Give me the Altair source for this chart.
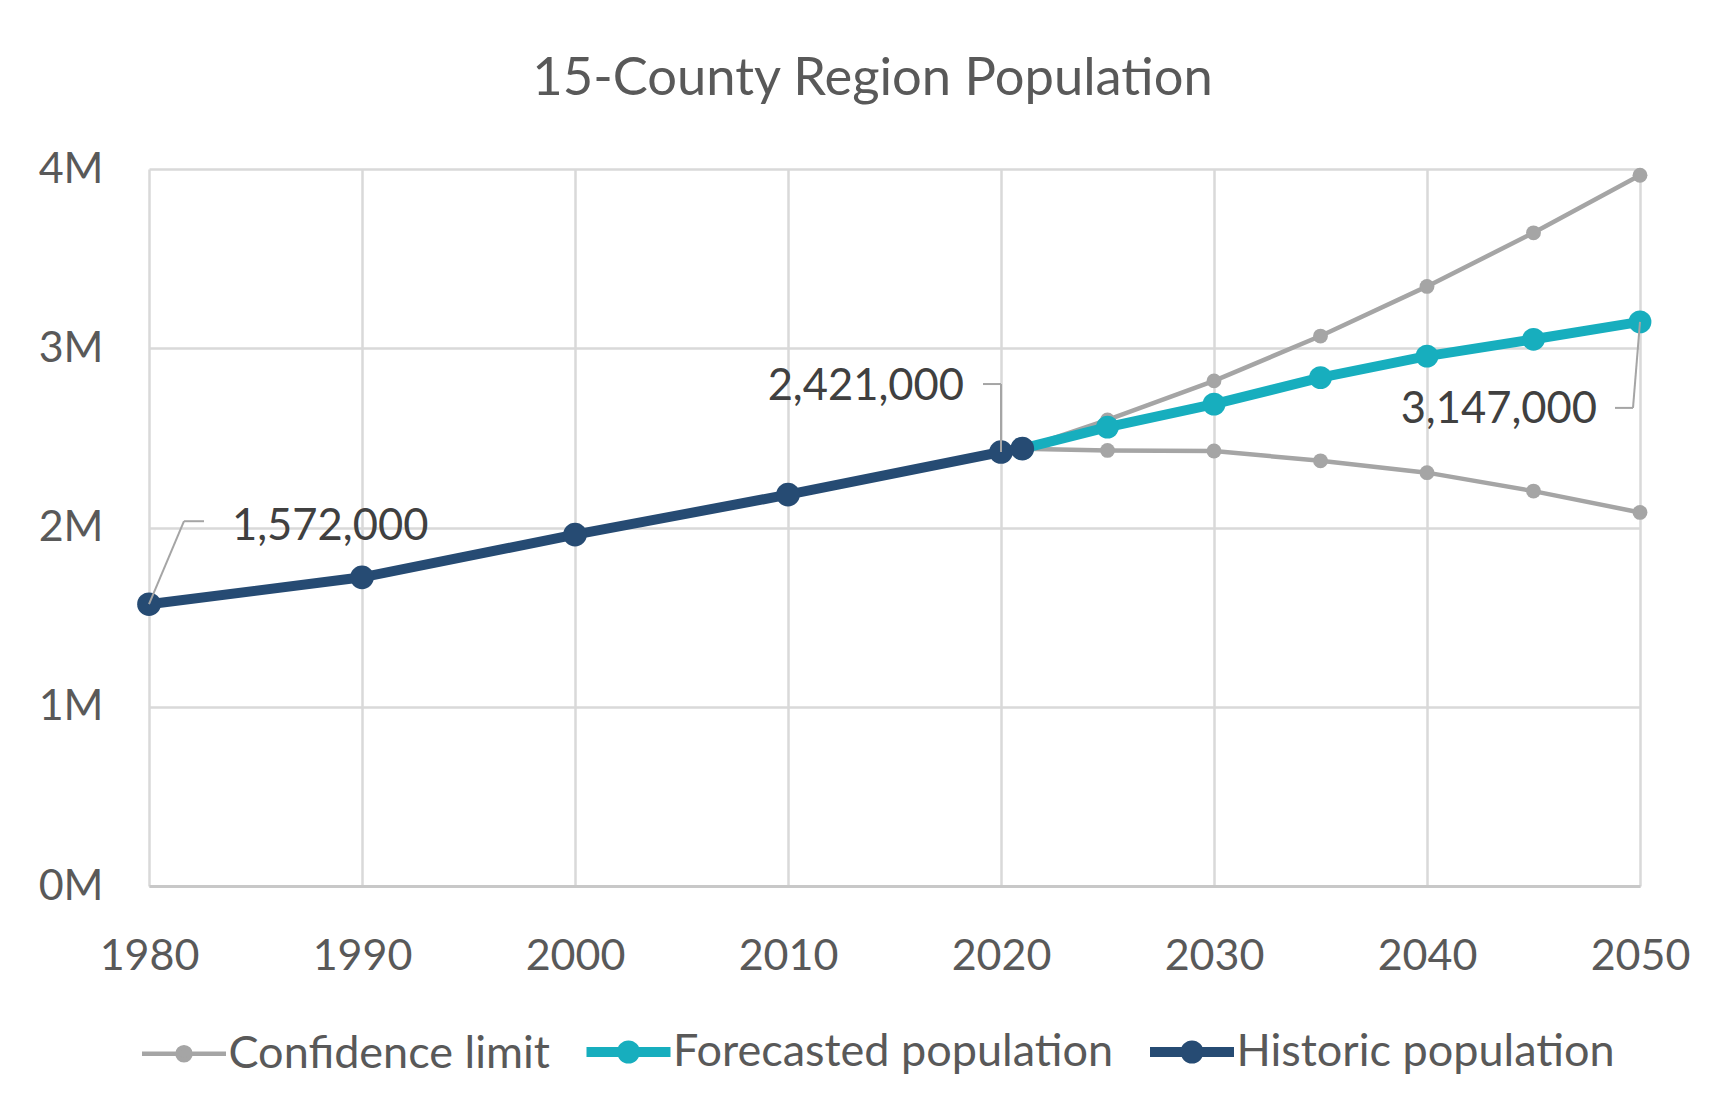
import altair as alt
import pandas as pd

# ---- data ----
hist_years = [1980, 1990, 2000, 2010, 2020, 2021]
hist_values = [1572000, 1722000, 1960000, 2183000, 2421000, 2440000]

fc_years = [2021, 2025, 2030, 2035, 2040, 2045, 2050]
fc_values = [2440000, 2560000, 2688000, 2836000, 2956000, 3050000, 3147000]

conf_years = [2021, 2025, 2030, 2035, 2040, 2045, 2050]
upper_values = [2440000, 2600000, 2818000, 3068000, 3345000, 3644000, 3965000]
lower_values = [2440000, 2430000, 2427000, 2372000, 2306000, 2203000, 2084000]

series_names = ["Confidence limit", "Forecasted population", "Historic population"]
series_colors = ["#A5A5A5", "#17AEBE", "#264B73"]

x_ticks = [1980, 1990, 2000, 2010, 2020, 2030, 2040, 2050]
y_ticks = [0, 1000000, 2000000, 3000000, 4000000]

ann_years = [1980, 2020, 2050]
ann_values = [1572000, 2421000, 3147000]
ann_labels = ["1,572,000", "2,421,000", "3,147,000"]

# ---- tables ----
rows = []
for y, v in zip(hist_years, hist_values):
    rows.append({"series": series_names[2], "bound": "h", "year": y, "value": v})
for y, v in zip(fc_years, fc_values):
    rows.append({"series": series_names[1], "bound": "f", "year": y, "value": v})
for y, v in zip(conf_years, upper_values):
    rows.append({"series": series_names[0], "bound": "upper", "year": y, "value": v})
for y, v in zip(conf_years, lower_values):
    rows.append({"series": series_names[0], "bound": "lower", "year": y, "value": v})
df = pd.DataFrame(rows)

ann = pd.DataFrame({"year": ann_years, "value": ann_values, "label": ann_labels})

FONT = "Lato"
TXT = "#595959"
GRID = "#D9D9D9"

r = 0.155
sym_path = (f"M-1,0L1,0M-{r},0A{r},{r},0,1,0,{r},0A{r},{r},0,1,0,-{r},0Z")

legend = alt.Legend(
    title=None,
    orient="none",
    legendX=-7,
    legendY=860,
    direction="horizontal",
    symbolType=sym_path,
    symbolSize=7056,
    symbolOpacity=1,
    symbolOffset=19.5,
    symbolFillColor=alt.ExprRef("scale('color', datum.value)"),
    symbolStrokeColor=alt.ExprRef("scale('color', datum.value)"),
    symbolStrokeWidth=alt.ExprRef("datum.value === 'Confidence limit' ? 4.5 : 10"),
    labelFont=FONT,
    labelFontSize=45,
    labelColor=TXT,
    labelOffset=22,
    labelLimit=1000,
    columnPadding=16.5,
)

x_enc = alt.X(
    "year:Q",
    scale=alt.Scale(domain=[1980, 2050], nice=False, zero=False),
    axis=alt.Axis(values=x_ticks, format="d", title=None, grid=True, ticks=False,
                  labelFlush=False, labelPadding=49, domain=True,
                  domainColor="#C8C8C8", domainWidth=3),
)
y_enc = alt.Y(
    "value:Q",
    scale=alt.Scale(domain=[0, 4000000], nice=False),
    axis=alt.Axis(values=y_ticks, labelExpr="datum.value / 1000000 + 'M'", title=None,
                  grid=True, ticks=False, domain=False, labelFlush=False, labelPadding=46),
)
color_enc = alt.Color(
    "series:N",
    scale=alt.Scale(domain=series_names, range=series_colors),
    legend=legend,
)

base = alt.Chart(df).encode(x=x_enc, y=y_enc, color=color_enc)

conf = base.transform_filter(alt.datum.series == series_names[0])
fc = base.transform_filter(alt.datum.series == series_names[1])
hist = base.transform_filter(alt.datum.series == series_names[2])

conf_line = conf.mark_line(strokeWidth=4.5).encode(detail="bound:N")
conf_pts = conf.mark_point(filled=True, size=220, opacity=1).encode(detail="bound:N")
fc_line = fc.mark_line(strokeWidth=10)
fc_pts = fc.mark_point(filled=True, size=520, opacity=1)
hist_line = hist.mark_line(strokeWidth=10)
hist_pts = hist.mark_point(filled=True, size=560, opacity=1)

LEAD = "#A5A5A5"
abase = alt.Chart(ann).encode(
    x=alt.X("year:Q"), y=alt.Y("value:Q"), x2="year:Q", y2="value:Q"
)
tbase = alt.Chart(ann).encode(x=alt.X("year:Q"), y=alt.Y("value:Q"), text="label:N")

a1 = abase.transform_filter(alt.datum.year == ann_years[0])
a2 = abase.transform_filter(alt.datum.year == ann_years[1])
a3 = abase.transform_filter(alt.datum.year == ann_years[2])
t1 = tbase.transform_filter(alt.datum.year == ann_years[0])
t2 = tbase.transform_filter(alt.datum.year == ann_years[1])
t3 = tbase.transform_filter(alt.datum.year == ann_years[2])

txt_kw = dict(font=FONT, fontSize=43.5, color="#404040", baseline="middle")

ann_layers = [
    a1.mark_rule(color=LEAD, strokeWidth=2, x2Offset=35, y2Offset=-83),
    a1.mark_rule(color=LEAD, strokeWidth=2, xOffset=35, yOffset=-83, x2Offset=55, y2Offset=-83),
    t1.mark_text(align="left", dx=83, dy=-77, **txt_kw),
    a2.mark_rule(color=LEAD, strokeWidth=2, y2Offset=-68),
    a2.mark_rule(color=LEAD, strokeWidth=2, yOffset=-68, x2Offset=-18, y2Offset=-68),
    t2.mark_text(align="right", dx=-37, dy=-65, **txt_kw),
    a3.mark_rule(color=LEAD, strokeWidth=2, x2Offset=-7, y2Offset=86),
    a3.mark_rule(color=LEAD, strokeWidth=2, xOffset=-7, yOffset=86, x2Offset=-25, y2Offset=86),
    t3.mark_text(align="right", dx=-43, dy=88, **txt_kw),
]

chart = alt.layer(
    conf_line, conf_pts, fc_line, fc_pts, hist_line, hist_pts, *ann_layers
).properties(
    width=1491,
    height=717,
    title=alt.TitleParams(
        "15-County Region Population",
        font=FONT, fontSize=52.5, fontWeight="normal", color=TXT,
        anchor="middle", dx=-22, offset=42,
    ),
    autosize=alt.AutoSizeParams(type="none"),
    padding={"left": 141, "top": 161, "right": 56, "bottom": 214},
).configure_view(
    stroke=None
).configure_axis(
    labelFont=FONT, labelFontSize=43, labelColor=TXT, gridColor=GRID, gridWidth=2.5,
)

chart.save("out.html", embed_options={"renderer": "svg", "actions": False})
